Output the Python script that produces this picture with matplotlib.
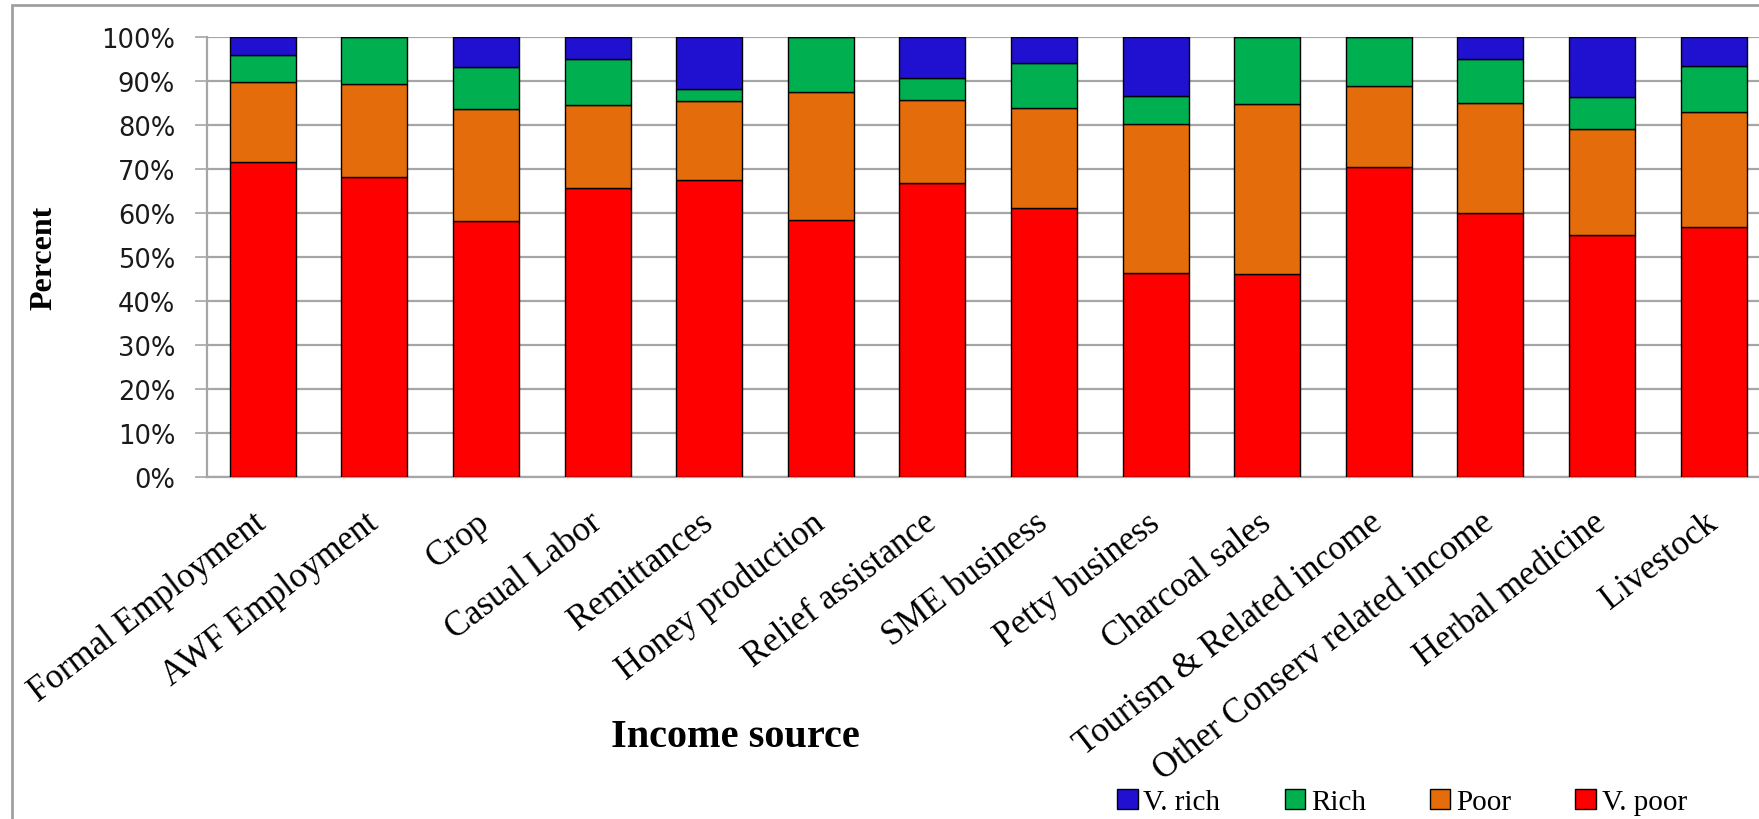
import matplotlib
matplotlib.use("Agg")
import matplotlib.pyplot as plt
import matplotlib.patches as mpatches
import numpy as np

# income sources (x axis)
categories = ["Formal Employment", "AWF Employment", "Crop", "Casual Labor",
              "Remittances", "Honey production", "Relief assistance", "SME business",
              "Petty business", "Charcoal sales", "Tourism & Related income",
              "Other Conserv related income", "Herbal medicine", "Livestock"]

# share of each wealth group (percent, stacked bottom to top)
v_poor = [71.5, 68.1, 58.1, 65.6, 67.6, 58.4, 66.9, 61.2, 46.4, 46.1, 70.5, 60.0, 55.1, 56.9]
poor = [18.2, 21.3, 25.5, 18.9, 17.8, 29.1, 18.8, 22.7, 33.8, 38.7, 18.3, 25.1, 24.1, 26.1]
rich = [6.2, 10.6, 9.5, 10.5, 2.8, 12.5, 5.0, 10.2, 6.4, 15.2, 11.2, 9.9, 7.1, 10.5]
v_rich = [4.1, 0.0, 6.9, 5.0, 11.8, 0.0, 9.3, 5.9, 13.4, 0.0, 0.0, 5.0, 13.7, 6.5]

series = [("V. poor", v_poor, "#FF0000"),
          ("Poor", poor, "#E46C0A"),
          ("Rich", rich, "#00B050"),
          ("V. rich", v_rich, "#2010D0")]

serif = ["Liberation Serif", "DejaVu Serif"]
grid_col = "#A6A6A6"

fig = plt.figure(figsize=(17.59, 8.2), dpi=100)
W, H = 1759, 820
ax = fig.add_axes([207 / W, 1 - 478 / H, 14 * 111.6 / W, (478 - 38) / H])

x = np.arange(len(categories))
bottom = np.zeros(len(categories))
handles = {}
for name, vals, col in series:
    vals = np.array(vals)
    b = ax.bar(x, vals, width=0.59, bottom=bottom, color=col,
               edgecolor="black", linewidth=1.0, zorder=3, label=name)
    handles[name] = b
    bottom += vals

ax.set_xlim(-0.5, len(categories) - 0.5)
ax.set_ylim(0, 100)
ax.set_yticks(np.arange(0, 101, 10))
ax.set_yticklabels([f"{v}%" for v in range(0, 101, 10)],
                   fontsize=18.5, family="DejaVu Sans", color="#1a1a1a")
ax.yaxis.grid(True, color=grid_col, linewidth=1.6, zorder=0)
ax.set_axisbelow(True)
ax.tick_params(axis="y", length=9, width=1.2, color=grid_col, pad=14)

ax.set_xticks(x)
ax.set_xticklabels(categories, rotation=37.5, ha="right", va="center",
                   rotation_mode="anchor", family=serif, fontsize=25)
ax.tick_params(axis="x", length=0, pad=30)

for s in ["top", "right"]:
    ax.spines[s].set_visible(False)
for s in ["left", "bottom"]:
    ax.spines[s].set_color(grid_col)
    ax.spines[s].set_linewidth(1.6)

fig.text(44 / W, 1 - 258 / H, "Percent", rotation=90, ha="center", va="center",
         family=serif, fontsize=23, fontweight="bold")
fig.text(735 / W, 1 - 738 / H, "Income source", ha="center", va="center",
         family=serif, fontsize=29, fontweight="bold")

order = ["V. rich", "Rich", "Poor", "V. poor"]
fig.legend([handles[n] for n in order], order, loc="center",
           bbox_to_anchor=(1402 / W, 1 - 803 / H), ncol=4, frameon=False,
           prop={"family": serif, "size": 21}, handlelength=0.7,
           handleheight=0.7, handletextpad=0.2, columnspacing=2.2)

# outer chart frame (right/bottom edges fall outside the picture)
frame = mpatches.Rectangle((12 / W, -0.1), 1.2, 1.1 - 6 / H, transform=fig.transFigure,
                           fill=False, edgecolor="#A0A0A0", linewidth=2, zorder=0)
fig.patches.append(frame)

plt.savefig("out.png", dpi=100)
plt.close()
